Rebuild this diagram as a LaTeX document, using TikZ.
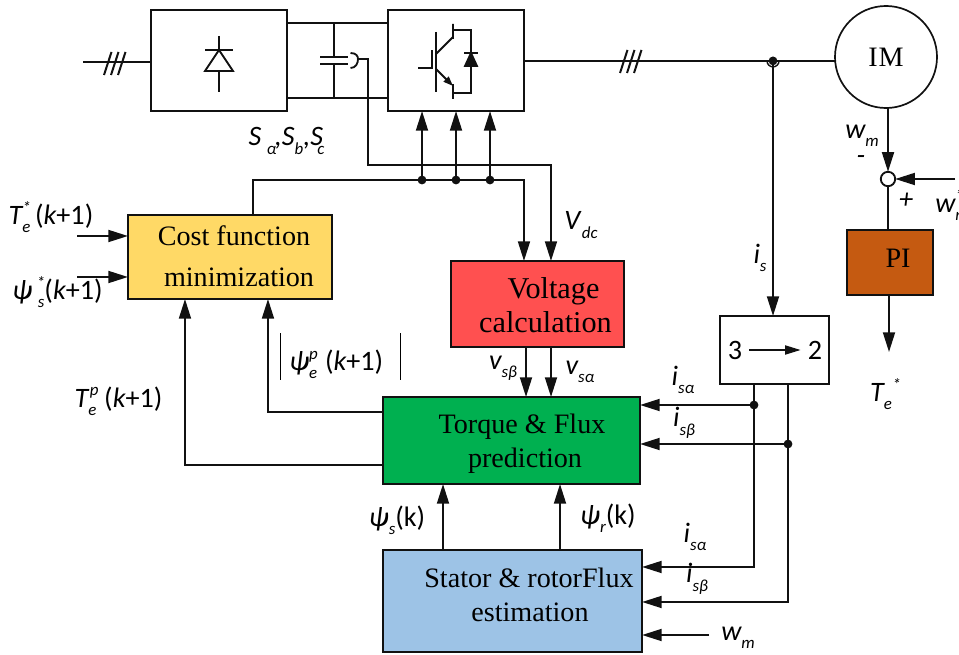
\documentclass[tikz,border=0pt]{standalone}
\usepackage{fontspec}
\setmainfont{Liberation Serif}
\newfontfamily\labfont{Carlito}
\usetikzlibrary{arrows.meta,calc}
\definecolor{ink}{HTML}{111111}
\definecolor{costfill}{HTML}{FFD966}
\definecolor{voltfill}{HTML}{FF5050}
\definecolor{predfill}{HTML}{00B050}
\definecolor{estfill}{HTML}{9DC3E6}
\definecolor{pifill}{HTML}{C55A11}
\newcommand{\lab}[3]{#1\rlap{\raisebox{8pt}{\fontsize{12}{12}\selectfont #2}}\raisebox{-6pt}{\fontsize{12}{12}\selectfont #3}}
\newcommand{\kone}{{\upshape(}k{\upshape+1)}}
\tikzset{
  block/.style={draw=ink,line width=1.2pt,outer sep=0pt,align=center,
                font=\fontsize{20}{24}\selectfont},
  sigline/.style={draw=ink,line width=1.42pt},
  sigarr/.style={-{Triangle[length=14pt,width=8.5pt]},line width=1.42pt,draw=ink},
  thinarr/.style={-{Triangle[length=11pt,width=6.5pt]},line width=1pt,draw=ink},
  junction/.style={circle,fill=ink,minimum size=0.22cm,inner sep=0pt,outer sep=0pt},
  sumnode/.style={circle,draw=ink,fill=white,line width=1.3pt,minimum size=0.36cm,
                  inner sep=0pt,outer sep=0pt},
  siglabel/.style={font=\labfont\itshape\fontsize{20}{24}\selectfont,inner sep=0pt},
  digit/.style={font=\labfont\fontsize{20}{24}\selectfont,inner sep=5pt},
  symb/.style={line width=1.3pt,draw=ink}
}
\begin{document}
\begin{tikzpicture}[x=0.025cm,y=-0.025cm]
    \useasboundingbox (0,0) rectangle (959,655);
    % power stage
    \node[block,fill=white,minimum width=3.4cm,minimum height=2.525cm] (rect) at (219,60.5) {};
    \node[block,fill=white,minimum width=3.4cm,minimum height=2.525cm] (inv) at (456,60.5) {};
    \node[block,circle,fill=white,minimum size=2.55cm,inner sep=0pt] (motor) at (886,57)
      {\raisebox{-1pt}{I\kern0.5pt M}};
    \coordinate (acin) at (83,62);
    \coordinate (vsense) at (358,59);
    \draw[sigline] (acin) -- (acin -| rect.west);
    \foreach \sx in {104,111,118}
      \draw[sigline] (\sx,75) -- (\sx+7.5,52);
    \draw[sigline] ($(rect.east)+(0,-37.5)$) -- ($(inv.west)+(0,-37.5)$);
    \draw[sigline] ($(rect.east)+(0,37.5)$) -- ($(inv.west)+(0,37.5)$);
    \draw[sigline] ($(inv.east)+(0,0.4)$) -- ($(inv.east -| motor.west)+(0,0.4)$);
    \foreach \sx in {620,627,634}
      \draw[sigline] (\sx,73) -- (\sx+7.5,50);

    % diode
    \draw[symb] (219,36) -- (219,50) (219,71) -- (219,92) (205,50) -- (233,50);
    \draw[symb] (219,50) -- (233,71) -- (205,71) -- cycle;
    % capacitor
    \draw[symb] (334,23) -- (334,57) (334,64) -- (334,98);
    \draw[symb] (320,57) -- (348,57) (320,64) -- (348,64);
    \draw[symb] (350.5,53) .. controls (356,53) and (358,56) .. (vsense)
                .. controls (358,63) and (356,68) .. (350.5,68);
    % igbt
    \draw[symb] (418,68) -- (432,68) -- (432,50);
    \draw[symb] (436,32) -- (436,92);
    \draw[symb] (436,54) -- (453,37) (453,24) -- (453,39);
    \draw[symb] (453,30) -- (471,30) -- (471,93) -- (453,93);
    \draw[symb,-{Triangle[length=7pt,width=5pt]}] (436,69) -- (453,86);
    \draw[symb] (453,84) -- (453,99);
    \draw[symb,fill=ink] (471,53) -- (477,66) -- (465,66) -- cycle;
    \draw[symb] (464,53) -- (478,53);

    % control blocks
    \node[block,fill=costfill,minimum width=5.1cm,minimum height=2.1cm] (cost) at (230,257)
      {\hspace*{0.2cm}Cost function\\[5pt]\hspace*{0.45cm}minimization\rule[-1.4pt]{0pt}{1pt}};
    \node[block,fill=voltfill,minimum width=4.325cm,minimum height=2.15cm,
          font=\fontsize{21.5}{24}\selectfont] (volt) at (537.5,304)
      {\rule{0pt}{17pt}\hspace*{0.8cm}Voltage\\\hspace*{0.4cm}calculation};
    \node[block,fill=predfill,minimum width=6.425cm,minimum height=2.175cm] (pred) at (511.5,440.5)
      {\rule{0pt}{19pt}\hspace*{0.525cm}Torque \& Flux\\\hspace*{0.675cm}prediction};
    \node[block,fill=estfill,minimum width=6.475cm,minimum height=2.55cm] (est) at (512.5,601)
      {\hspace*{0.825cm}Stator \& rotorFlux\\\hspace*{0.875cm}estimation\\[-15.5pt]};
    \node[block,fill=pifill,minimum width=2.15cm,minimum height=1.625cm] (pi) at (890,262.5)
      {\hspace*{0.4cm}\raisebox{1pt}[1ex][0pt]{PI}};
    \node[block,fill=white,minimum width=2.725cm,minimum height=1.7cm] (conv) at (774.5,350) {};
    \node[digit] (three) at (735,350) {3};
    \node[digit] (two) at (815,350) {2};
    \draw[thinarr] (three) -- (two);

    % gate signals
    \node[junction] (ga) at (422,180) {};
    \node[junction] (gb) at (456,180) {};
    \node[junction] (gc) at (490,180) {};
    \draw[sigarr] (ga) -- (ga |- inv.south);
    \draw[sigarr] (gb) -- (gb |- inv.south);
    \draw[sigarr] (gc) -- (gc |- inv.south);
    \draw[sigarr] ($(cost.north west)+(125,0)$) |- (gc.center) -| ($(volt.north west)+(73,0)$);
    \draw[sigarr] (vsense) -- ++(10.4,0) |- ($(volt.north west)+(100,-96)$) -- ($(volt.north west)+(100,0)$);

    % speed loop
    \node[sumnode] (sum) at (888,179) {};
    \coordinate (wmref) at (955,179);
    \coordinate (teref) at (889,352);
    \draw[sigarr] (motor.south -| sum.north) -- (sum.north);
    \draw[sigarr] (wmref) -- (sum.east);
    \draw[sigline] (sum.south) -- (sum.south |- pi.north);
    \draw[sigarr] (teref |- pi.south) -- (teref);

    % current sensing
    \node[junction] (tap) at (773,60.9) {};
    \draw[line width=1pt,draw=ink] (767,60.9) arc (180:0:6);
    \draw[sigarr] (tap) -- (tap |- conv.north);
    \node[junction] (ja) at (754,405) {};
    \node[junction] (jb) at (788,444) {};
    \draw[sigline] (ja |- conv.south) -- (ja);
    \draw[sigline] (jb |- conv.south) -- (jb);
    \draw[sigarr] (ja) -- (ja -| pred.east);
    \draw[sigarr] (jb) -- (jb -| pred.east);
    \draw[sigarr] (ja) |- ($(est.north east)+(0,17)$);
    \draw[sigarr] (jb) |- ($(est.north east)+(0,52)$);
    \coordinate (wmin) at (709,635);
    \draw[sigarr] (wmin) -- (wmin -| est.east);

    % inner connections
    \draw[sigarr] (volt.south -| 526,0) -- (pred.north -| 526,0);
    \draw[sigarr] (volt.south -| 551,0) -- (pred.north -| 551,0);
    \draw[sigarr] (est.north -| 443,0) -- (pred.south -| 443,0);
    \draw[sigarr] (est.north -| 560,0) -- (pred.south -| 560,0);
    \draw[sigarr] ($(pred.north west)+(0,15)$) -| ($(cost.south west)+(140,0)$);
    \draw[sigarr] ($(pred.north west)+(0,68)$) -| ($(cost.south west)+(57,0)$);
    \coordinate (tein) at (77,236);
    \coordinate (psiin) at (77,277);
    \draw[sigarr] (tein) -- (tein -| cost.west);
    \draw[sigarr] (psiin) -- (psiin -| cost.west);

    % labels
    \node[siglabel] (lsabc) at (286.5,141) {\lab{S}{}{\kern4pt α\kern-1pt},\lab{S}{}{b},\lab{S}{}{\kern-4pt c}};
    \node[siglabel] (lte) at (51,217) {\lab{T}{*}{e}\,\kone};
    \node[siglabel] (lpsi) at (57.5,292) {\lab{ψ}{\kern3pt *}{\kern4pt s}\kone};
    \node[siglabel] (ltp) at (118.5,401) {\lab{T}{\kern1pt p}{e}\;\kone};
    \node[siglabel] (lmag) at (340.5,356.5)
      {\rule[-6.5pt]{0.7pt}{33pt}\hspace{6pt}\lab{ψ}{p}{e}\;\kone\hspace{12pt}\rule[-6.5pt]{0.7pt}{33pt}};
    \node[siglabel] (lvdc) at (581,225) {\lab{V}{}{\kern1pt dc}};
    \node[siglabel] (lis) at (760,258) {\lab{i}{}{s}};
    \node[siglabel] (lwm) at (862,136) {\lab{w}{}{m}};
    \node[siglabel] (lminus) at (861,160) {-};
    \node[siglabel] (lplus) at (906,201) {+};
    \node[siglabel,anchor=west] (lwmref) at (935,205) {\lab{w}{*}{m}};
    \node[siglabel] (lteref) at (881,394) {\lab{T}{\kern6pt *}{e}};
    \node[siglabel] (lvb) at (503,368) {\lab{v}{}{sβ}};
    \node[siglabel] (lva) at (580,372) {\lab{v}{}{sα}};
    \node[siglabel] (lia) at (683,380) {\lab{i}{}{sα}};
    \node[siglabel] (lib) at (684,423) {\lab{i}{}{sβ}};
    \node[siglabel] (lpss) at (397,520) {\lab{ψ}{}{s}{\upshape(k)}};
    \node[siglabel] (lpsr) at (608,518) {\lab{ψ}{}{r}{\upshape(k)}};
    \node[siglabel] (lia2) at (695,537) {\lab{i}{}{sα}};
    \node[siglabel] (lib2) at (697,579) {\lab{i}{}{sβ}};
    \node[siglabel] (lwm2) at (738,638) {\lab{w}{}{m}};
  \end{tikzpicture}
\end{document}
